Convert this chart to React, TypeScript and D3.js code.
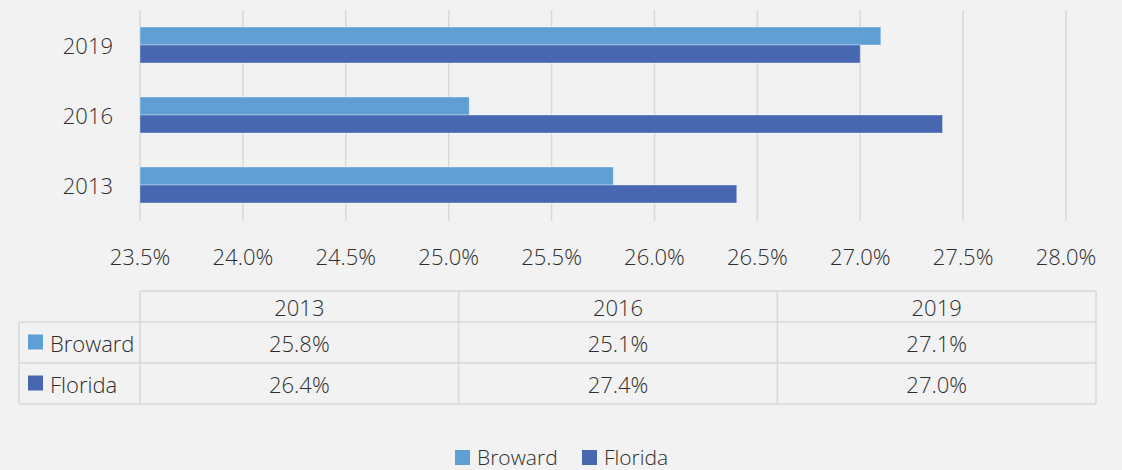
import React from 'react';
import * as d3 from 'd3';

const categories = ['2013', '2016', '2019'];
const seriesNames = ['Broward', 'Florida'];
const broward = [25.8, 25.1, 27.1];
const florida = [26.4, 27.4, 27.0];
const colors = ['#5F9FD4', '#4867B1'];
const xMin = 23.5;
const xMax = 28.0;

const W = 1122;
const H = 470;
const FONT = "'Open Sans', 'Noto Sans', sans-serif";
const TXT = '#2e2e2e';
const GRID = '#d9d9d9';

export default function App() {
  const x = d3.scaleLinear().domain([xMin, xMax]).range([140, 1066]);
  const ticks = d3.range(0, 10).map((i) => +(xMin + i * 0.5).toFixed(1));
  const yBand = d3.scaleBand().domain([...categories].reverse()).range([10, 220]).paddingInner(0).paddingOuter(0);
  const barH = 18;
  const series = [broward, florida];

  const tableX = d3.scaleBand().domain(categories).range([140, 1096]);
  const rowTop = [291, 322, 363, 404];

  return (
    <div style={{ position: 'fixed', left: 0, top: 0, width: W, height: H }}>
      <svg width={W} height={H} style={{ display: 'block', background: '#f2f2f2' }} fontFamily={FONT}>
        <rect x={0} y={0} width={W} height={H} fill="#f2f2f2" />
        {ticks.map((t) => (
          <line key={'g' + t} x1={x(t)} x2={x(t)} y1={10} y2={221} stroke={GRID} strokeWidth={1.5} />
        ))}
        {categories.map((c, i) => {
          const cy = (yBand(c) as number) + yBand.bandwidth() / 2;
          return (
            <g key={'b' + c}>
              {series.map((s, j) => (
                <rect
                  key={j}
                  x={x(xMin)}
                  y={cy - barH + j * barH}
                  width={x(s[i]) - x(xMin)}
                  height={barH}
                  fill={colors[j]}
                  stroke="#ffffff"
                  strokeOpacity={0.35}
                  strokeWidth={1}
                />
              ))}
              <text x={113} y={cy} textAnchor="end" dominantBaseline="central" fontSize={22} fontWeight={300} fill={TXT}>
                {c}
              </text>
            </g>
          );
        })}
        {ticks.map((t) => (
          <text key={'t' + t} x={x(t)} y={265} textAnchor="middle" fontSize={22} fontWeight={300} fill={TXT}>
            {t.toFixed(1) + '%'}
          </text>
        ))}
        <g stroke={GRID} strokeWidth={1.5} fill="none">
          <line x1={140} x2={1096} y1={rowTop[0]} y2={rowTop[0]} />
          <line x1={19} x2={1096} y1={rowTop[1]} y2={rowTop[1]} />
          <line x1={19} x2={1096} y1={rowTop[2]} y2={rowTop[2]} />
          <line x1={19} x2={1096} y1={rowTop[3]} y2={rowTop[3]} />
          <line x1={19} x2={19} y1={rowTop[1]} y2={rowTop[3]} />
          {categories.map((c) => (
            <line key={'v' + c} x1={tableX(c)} x2={tableX(c)} y1={rowTop[0]} y2={rowTop[3]} />
          ))}
          <line x1={1096} x2={1096} y1={rowTop[0]} y2={rowTop[3]} />
        </g>
        {categories.map((c) => (
          <text
            key={'h' + c}
            x={(tableX(c) as number) + tableX.bandwidth() / 2}
            y={(rowTop[0] + rowTop[1]) / 2}
            textAnchor="middle"
            dominantBaseline="central"
            fontSize={22}
            fontWeight={300}
            fill={TXT}
          >
            {c}
          </text>
        ))}
        {series.map((s, j) => {
          const cy = (rowTop[j + 1] + rowTop[j + 2]) / 2;
          return (
            <g key={'r' + j}>
              <rect x={28} y={cy - 8} width={15} height={15} fill={colors[j]} />
              <text x={50} y={cy} dominantBaseline="central" fontSize={22} fontWeight={300} fill={TXT}>
                {seriesNames[j]}
              </text>
              {categories.map((c, i) => (
                <text
                  key={c}
                  x={(tableX(c) as number) + tableX.bandwidth() / 2}
                  y={cy}
                  textAnchor="middle"
                  dominantBaseline="central"
                  fontSize={22}
                  fontWeight={300}
                  fill={TXT}
                >
                  {s[i].toFixed(1) + '%'}
                </text>
              ))}
            </g>
          );
        })}
        {seriesNames.map((n, j) => {
          const lx = j === 0 ? 455 : 582;
          return (
            <g key={'l' + n}>
              <rect x={lx} y={450} width={15} height={15} fill={colors[j]} />
              <text x={lx + 22} y={465} fontSize={21} fontWeight={300} fill={TXT}>
                {n}
              </text>
            </g>
          );
        })}
      </svg>
    </div>
  );
}
